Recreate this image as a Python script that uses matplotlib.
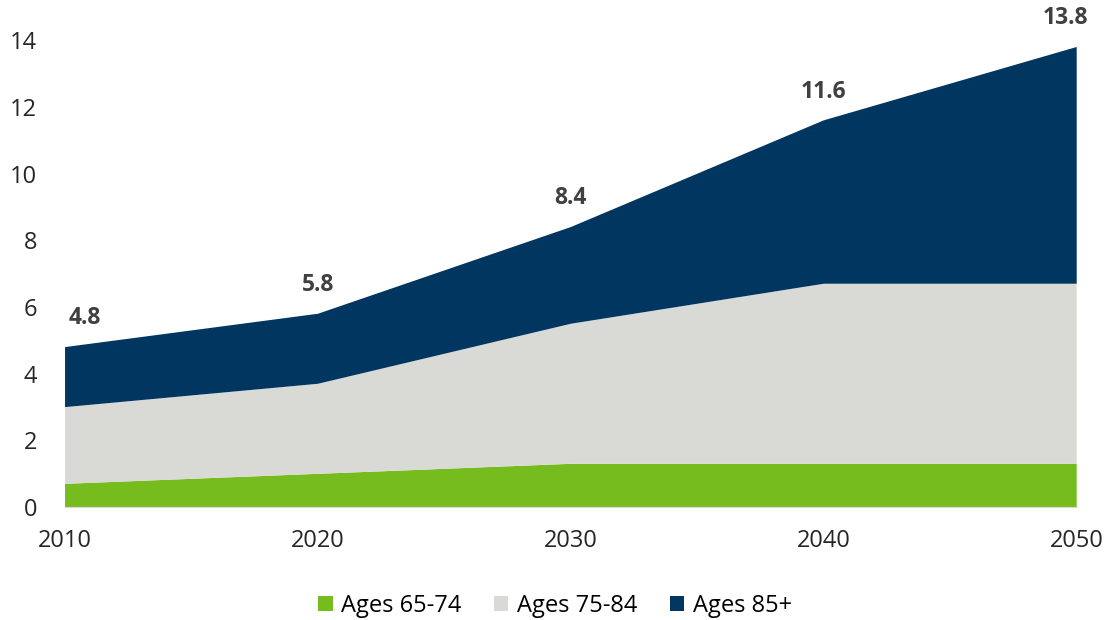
import numpy as np
import matplotlib.pyplot as plt

years = [2010, 2020, 2030, 2040, 2050]
ages_65_74 = [0.7, 1.0, 1.3, 1.3, 1.3]
ages_75_84 = [2.3, 2.7, 4.2, 5.4, 5.4]
totals = [4.8, 5.8, 8.4, 11.6, 13.8]
ages_85 = [t - a - b for t, a, b in zip(totals, ages_65_74, ages_75_84)]
labels = ['Ages 65-74', 'Ages 75-84', 'Ages 85+']
colors = ['#77bc1f', '#d9d9d6', '#003660']

plt.rcParams['font.family'] = ['Open Sans', 'DejaVu Sans']

fig = plt.figure(figsize=(11.1, 6.2), dpi=100)
ax = fig.add_axes([0.0586, 0.182, 0.9114, 0.753])

ax.stackplot(years, ages_65_74, ages_75_84, ages_85, colors=colors, labels=labels)

# total labels above the stack; first one nudged right like the original
for i, (x, t) in enumerate(zip(years, totals)):
    dx = 14 if i == 0 else (-8 if i == len(years) - 1 else 0)
    ax.annotate(f'{t:.1f}', (x, t), xytext=(dx, 12), textcoords='offset points',
                ha='center', va='bottom', fontsize=16.5, fontweight='bold',
                color='#404040', annotation_clip=False)

ax.set_xlim(2010, 2050)
ax.set_ylim(0, 14)
ax.set_xticks(years)
ax.set_yticks(range(0, 15, 2))
ax.tick_params(axis='both', length=0, labelsize=17, colors='#262626')
ax.tick_params(axis='y', pad=20)
ax.tick_params(axis='x', pad=16)
for s in ['top', 'right', 'left']:
    ax.spines[s].set_visible(False)
ax.spines['bottom'].set_color('#d9d9d9')

fig.legend(loc='center', bbox_to_anchor=(0.5, 0.023), ncol=3, frameon=False,
           fontsize=17, handlelength=0.6, handleheight=0.6, handletextpad=0.35,
           columnspacing=1.4)

fig.savefig('out.png', dpi=100)
